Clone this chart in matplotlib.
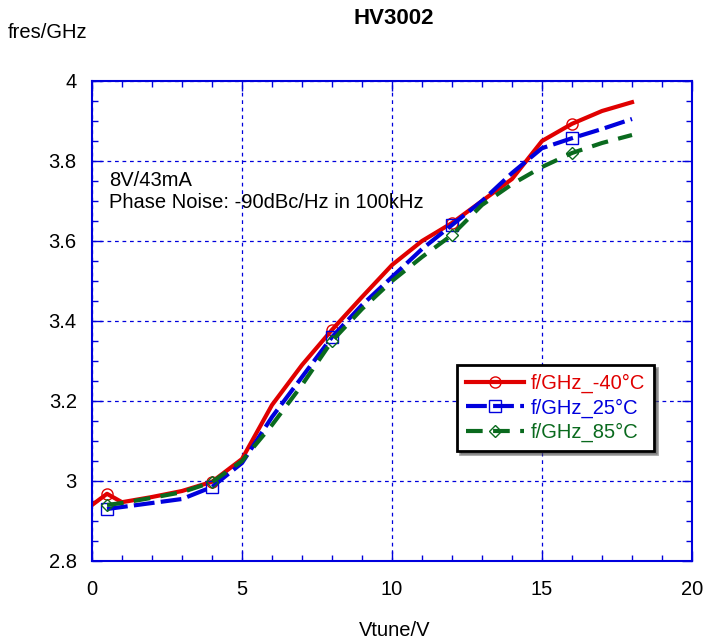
import numpy as np
import matplotlib.pyplot as plt
from matplotlib.ticker import MultipleLocator

plt.rcParams['font.family'] = ['Liberation Sans', 'DejaVu Sans']

# data
vtune = [0, 0.5, 1, 2, 3, 4, 5, 6, 7, 8, 9, 10, 11, 12, 13, 14, 15, 16, 17, 18]
f_m40 = [2.94, 2.968, 2.947, 2.96, 2.975, 2.998, 3.055, 3.19, 3.29, 3.378, 3.46, 3.54,
         3.60, 3.645, 3.70, 3.755, 3.85, 3.893, 3.925, 3.947]
vtune_b = vtune[1:]
f_25 = [2.93, 2.935, 2.945, 2.955, 2.985, 3.045, 3.16, 3.26, 3.36, 3.44, 3.51,
        3.58, 3.64, 3.70, 3.77, 3.832, 3.857, 3.88, 3.905]
f_85 = [2.94, 2.945, 2.958, 2.972, 2.997, 3.05, 3.14, 3.24, 3.35, 3.43, 3.50,
        3.56, 3.615, 3.69, 3.742, 3.785, 3.82, 3.845, 3.865]
mark_v = [0.5, 4, 8, 12, 16]

fig = plt.figure(figsize=(7.05, 6.4), dpi=100)
ax = fig.add_axes([92/705, 1-561/640, 600/705, 480/640])

red = '#e00000'
blue = '#0000dd'
green = '#0a6a1e'
fs = 14.5

idx_r = [vtune.index(v) for v in mark_v]
idx_b = [vtune_b.index(v) for v in mark_v]

ax.plot(vtune, f_m40, color=red, lw=3, marker='o', markersize=8, mfc='none',
        mec=red, mew=1, markevery=idx_r, label='f/GHz_-40°C')
ax.plot(vtune_b, f_25, color=blue, lw=3, dashes=(5, 1.5), marker='s', markersize=8,
        mfc='none', mec=blue, mew=1, markevery=idx_b, label='f/GHz_25°C')
ax.plot(vtune_b, f_85, color=green, lw=3, dashes=(4, 2.5), marker='D', markersize=6,
        mfc='none', mec=green, mew=1, markevery=idx_b, label='f/GHz_85°C')

ax.set_xlim(0, 20)
ax.set_ylim(2.8, 4.0)
ax.xaxis.set_minor_locator(MultipleLocator(1))
ax.yaxis.set_minor_locator(MultipleLocator(0.05))
ax.set_xticks([0, 5, 10, 15, 20], ['0', '5', '10', '15', '20'])
ax.set_yticks([2.8, 3.0, 3.2, 3.4, 3.6, 3.8, 4.0], ['2.8', '3', '3.2', '3.4', '3.6', '3.8', '4'])
ax.tick_params(which='both', direction='in', top=True, right=True, color=blue,
               labelsize=fs, width=1)
ax.tick_params(which='major', length=7)
ax.tick_params(which='minor', length=4)
ax.tick_params(axis='x', which='major', pad=14)
ax.tick_params(axis='y', which='major', pad=11)
for s in ax.spines.values():
    s.set_color(blue)
    s.set_linewidth(1.5)
ax.grid(True, which='major', color=blue, linestyle=(0, (3, 3)), lw=0.9)

ax.text(17/600, 1-(180-81)/480, '8V/43mA', transform=ax.transAxes, fontsize=fs, va='center')
ax.text(17/600, 1-(203-81)/480, 'Phase Noise: -90dBc/Hz in 100kHz', transform=ax.transAxes,
        fontsize=fs, va='center')

leg = ax.legend(loc='upper left', bbox_to_anchor=(365/600, (561-365)/480), fontsize=fs,
                frameon=True, fancybox=False, shadow=True, handlelength=2.9,
                borderpad=0.45, labelspacing=0.25, handletextpad=0.3, borderaxespad=0)
leg.get_frame().set_edgecolor('black')
leg.get_frame().set_linewidth(2)
for t, c in zip(leg.get_texts(), [red, blue, green]):
    t.set_color(c)

fig.text(394/705, 1-18/640, 'HV3002', ha='center', va='center', fontsize=16, fontweight='bold')
fig.text(8/705, 1-32/640, 'fres/GHz', ha='left', va='center', fontsize=fs)
fig.text(395/705, 1-630/640, 'Vtune/V', ha='center', va='center', fontsize=fs)

fig.savefig('out.png', dpi=100)
